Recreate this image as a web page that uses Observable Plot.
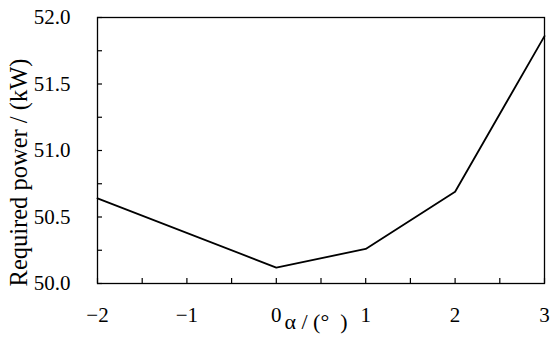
<!DOCTYPE html>
<html>
<head>
<meta charset="utf-8">
<script src="https://cdn.jsdelivr.net/npm/d3@7"></script>
<script src="https://cdn.jsdelivr.net/npm/@observablehq/plot@0.6"></script>
<style>
  html, body { margin: 0; padding: 0; background: #fff; }
  svg { display: block; }
  svg, svg text { font-family: "Liberation Serif", "DejaVu Serif", serif !important; }
</style>
</head>
<body>
<div id="chart"></div>
<script>
// Data
const alpha = [-2, 0, 1, 2, 3];
const power = [50.64, 50.12, 50.26, 50.69, 51.86];
const xLabelTicks = [-2, -1, 0, 1, 2, 3];
const xMinorTicks = [-2, -1.5, -1, -0.5, 0, 0.5, 1, 1.5, 2, 2.5, 3];
const yLabelTicks = [50.0, 50.5, 51.0, 51.5, 52.0];
const yMinorTicks = [50.0, 50.25, 50.5, 50.75, 51.0, 51.25, 51.5, 51.75, 52.0];
const xTitle = "α / (°  )";
const yTitle = "Required power / (kW)";

const data = alpha.map((a, i) => ({alpha: a, power: power[i]}));
const font = "'Liberation Serif', serif";

const chart = Plot.plot({
  width: 550,
  height: 342,
  marginLeft: 97,
  marginRight: 6,
  marginTop: 17,
  marginBottom: 59,
  style: {fontFamily: font, fontSize: "21px", color: "#000", background: "#fff"},
  x: {domain: [-2, 3]},
  y: {domain: [50, 52]},
  marks: [
    Plot.axisX({ticks: xMinorTicks, tickSize: -5, tickFormat: () => "", label: null, strokeWidth: 1.2}),
    Plot.axisX({ticks: xLabelTicks, tickSize: 0, tickPadding: 24, fontSize: 21, fontFamily: font, label: null, tickFormat: d3.format("d")}),
    Plot.axisY({ticks: yMinorTicks, tickSize: -5, tickFormat: () => "", label: null, strokeWidth: 1.2}),
    Plot.axisY({ticks: yLabelTicks, tickSize: 0, tickPadding: 27, fontSize: 21, fontFamily: font, tickFormat: d3.format(".1f"), label: null}),
    Plot.text([xTitle], {text: d => d, frameAnchor: "bottom", dx: -5, dy: 45, fontSize: 22, fontFamily: font, lineAnchor: "bottom"}),
    Plot.text([yTitle], {text: d => d, frameAnchor: "left", rotate: -90, dx: -88, dy: 22, fontSize: 24.5, fontFamily: font, lineAnchor: "top", textAnchor: "middle"}),
    Plot.frame({stroke: "#000", strokeWidth: 1.3}),
    Plot.line(data, {x: "alpha", y: "power", stroke: "#000", strokeWidth: 1.8})
  ]
});
document.getElementById("chart").appendChild(chart);
</script>
</body>
</html>
